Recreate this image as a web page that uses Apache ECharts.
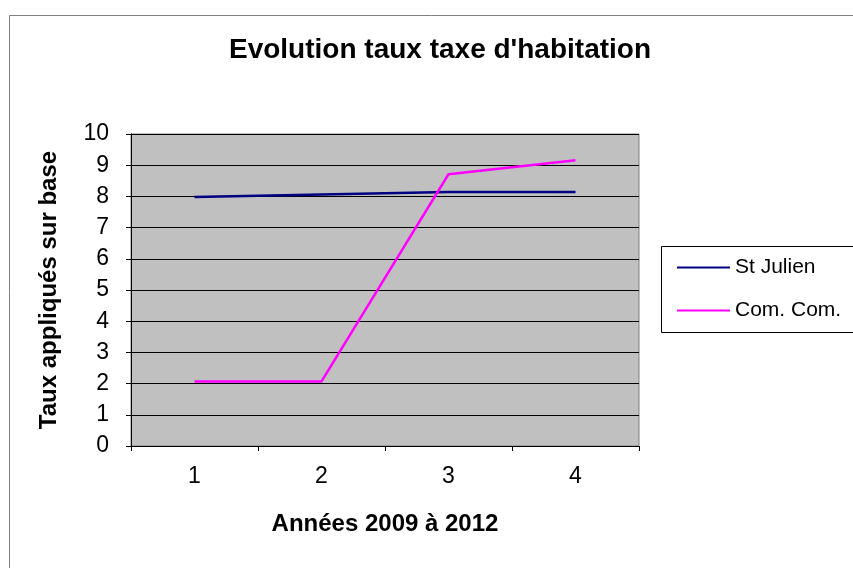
<!DOCTYPE html>
<html>
<head>
<meta charset="utf-8">
<script src="https://cdn.jsdelivr.net/npm/echarts@6/dist/echarts.min.js"></script>
<style>
  html, body { margin: 0; padding: 0; background: #fff; }
  #chart { width: 853px; height: 568px; }
</style>
</head>
<body>
<div id="chart"></div>
<script>
// données
const annees = ['1', '2', '3', '4'];
const stJulien = [7.98, 8.06, 8.14, 8.14];
const comCom = [2.07, 2.07, 8.71, 9.16];

const font = 'Arial, "Liberation Sans", sans-serif';

const myChart = echarts.init(document.getElementById('chart'), null, { renderer: 'canvas' });

const option = {
  backgroundColor: '#ffffff',
  animation: false,
  title: {
    text: "Evolution taux taxe d'habitation",
    left: 435,
    textAlign: 'center',
    top: 31,
    textStyle: { fontFamily: font, fontSize: 28, fontWeight: 'bold', color: '#000' }
  },
  graphic: [
    {
      type: 'rect',
      shape: { x: 9.5, y: 15.5, width: 900, height: 600 },
      style: { fill: 'none', stroke: '#808080', lineWidth: 1 },
      z: -1
    },
    {
      type: 'rect',
      shape: { x: 661.5, y: 246.5, width: 220, height: 86 },
      style: { fill: '#fff', stroke: '#000', lineWidth: 1 },
      z: 0
    }
  ],
  legend: {
    orient: 'vertical',
    left: 677,
    top: 257,
    padding: 0,
    itemGap: 22,
    itemWidth: 53,
    itemHeight: 2,
    icon: 'rect',
    z: 5,
    textStyle: { fontFamily: font, fontSize: 21, color: '#000', lineHeight: 21, padding: [0, 0, 0, 0] },
    data: ['St Julien', 'Com. Com.']
  },
  grid: {
    left: 131,
    right: 214,
    top: 134,
    bottom: 122,
    show: true,
    backgroundColor: '#c0c0c0',
    borderColor: '#808080',
    borderWidth: 1
  },
  xAxis: {
    type: 'category',
    data: annees,
    boundaryGap: true,
    name: 'Années 2009 à 2012',
    nameLocation: 'middle',
    nameGap: 66,
    nameTextStyle: { fontFamily: font, fontSize: 24, fontWeight: 'bold', color: '#000' },
    axisLine: { lineStyle: { color: '#000', width: 1 } },
    axisTick: { show: true, length: 5, lineStyle: { color: '#000' } },
    axisLabel: { fontFamily: font, fontSize: 23, color: '#000', margin: 19 },
    splitLine: { show: false }
  },
  yAxis: {
    type: 'value',
    min: 0,
    max: 10,
    interval: 1,
    name: 'Taux appliqués sur base',
    nameLocation: 'middle',
    nameGap: 70,
    nameTextStyle: { fontFamily: font, fontSize: 24, fontWeight: 'bold', color: '#000' },
    axisLine: { show: true, lineStyle: { color: '#000', width: 1 } },
    axisTick: { show: true, length: 5, lineStyle: { color: '#000' } },
    axisLabel: { fontFamily: font, fontSize: 23, color: '#000', margin: 22, padding: [3, 0, 0, 0] },
    splitLine: { show: true, lineStyle: { color: '#000', width: 1 } }
  },
  series: [
    {
      name: 'St Julien',
      type: 'line',
      data: stJulien,
      color: '#000080',
      showSymbol: false,
      lineStyle: { width: 2.5, color: '#000080' }
    },
    {
      name: 'Com. Com.',
      type: 'line',
      data: comCom,
      color: '#ff00ff',
      showSymbol: false,
      lineStyle: { width: 2.5, color: '#ff00ff' }
    }
  ]
};

myChart.setOption(option);
window.onresize = function () {
  myChart.resize();
};
</script>
</body>
</html>
